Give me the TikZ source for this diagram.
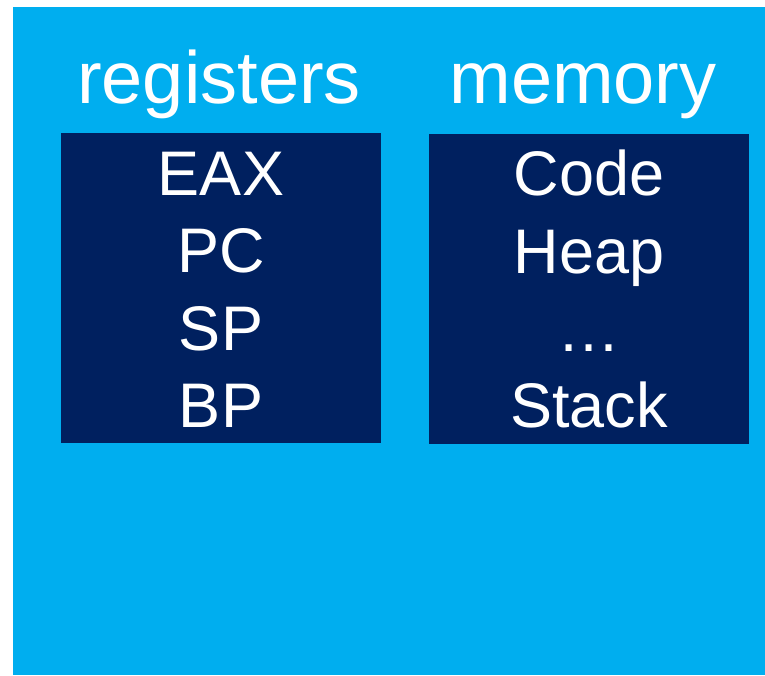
\documentclass[tikz,border=0pt]{standalone}
\usepackage{fontspec}
\setmainfont{Liberation Sans}
\definecolor{sky}{HTML}{00AEEF}
\definecolor{navy}{HTML}{00205F}
\begin{document}
\begin{tikzpicture}[x=1pt,y=-1pt,
  head/.style={text=white,font=\fontsize{74}{74}\selectfont,anchor=base,inner sep=0pt},
  item/.style={text=white,font=\fontsize{63}{63}\selectfont,anchor=base,inner sep=0pt},
  panel/.style={fill=navy,draw=none}]
\useasboundingbox (0,0) rectangle (765,675);
\fill[sky] (13,7) rectangle (765,675);
\fill[panel] (61,133) rectangle (381,443);
\fill[panel] (429,134) rectangle (749,444);
\node[head] (reg) at (219,103) {registers};
\node[head] (mem) at (583,103) {memory};
\node[item] (eax) at (221,195) {EAX};
\node[item] (pc) at (221,272) {PC};
\node[item] (sp) at (221,350) {SP};
\node[item] (bp) at (221,427) {BP};
\node[item] (code) at (589,195) {Code};
\node[item] (heap) at (589,273) {Heap};
\node[item] (dots) at (589,351) {…};
\node[item] (stack) at (589,427) {Stack};
\end{tikzpicture}
\end{document}
